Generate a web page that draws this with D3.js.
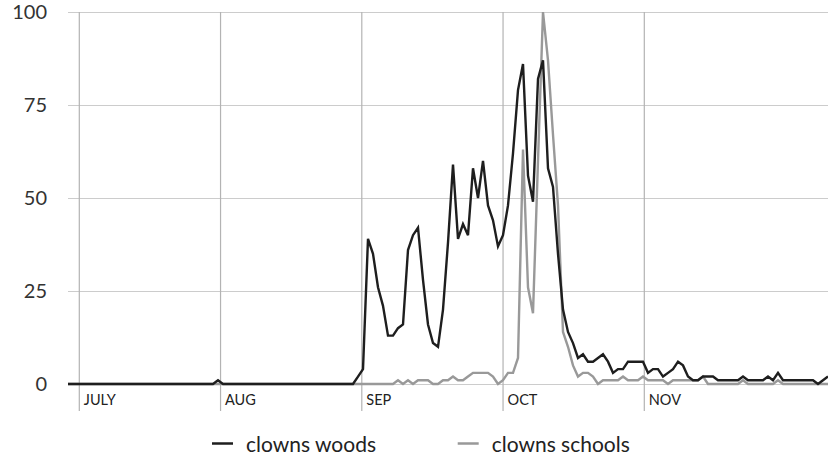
<!DOCTYPE html>
<html><head><meta charset="utf-8">
<script src="https://cdn.jsdelivr.net/npm/d3@7"></script>
<style>
html,body{margin:0;padding:0;background:#fff;}
svg{display:block;font-family:Lato,"Open Sans",sans-serif;}
</style></head><body>
<svg id="chart" width="828" height="458"></svg>
<script>
const startDate = new Date(2016, 6, 1);
const months = ["JULY", "AUG", "SEP", "OCT", "NOV"];
const yTicks = [0, 25, 50, 75, 100];
const seriesNames = ["clowns woods", "clowns schools"];
const woods = [
  0,0,0,0,0,0,0,0,0,0,
  0,0,0,0,0,0,0,0,0,0,
  0,0,0,0,0,0,0,0,0,0,
  1,0,0,0,0,0,0,0,0,0,
  0,0,0,0,0,0,0,0,0,0,
  0,0,0,0,0,0,0,0,2,4,
  39,35,26,21,13,13,15,16,36,40,
  42,28,16,11,10,20,38,59,39,43,
  40,58,50,60,48,44,37,40,48,62,
  79,86,56,49,82,87,58,53,35,20,
  14,11,7,8,6,6,7,8,6,3,
  4,4,6,6,6,6,3,4,4,2,
  3,4,6,5,2,1,1,2,2,2,
  1,1,1,1,1,2,1,1,1,1,
  2,1,3,1,1,1,1,1,1,1,
  0,1,2
];
const schools = [
  0,0,0,0,0,0,0,0,0,0,
  0,0,0,0,0,0,0,0,0,0,
  0,0,0,0,0,0,0,0,0,0,
  0,0,0,0,0,0,0,0,0,0,
  0,0,0,0,0,0,0,0,0,0,
  0,0,0,0,0,0,0,0,0,0,
  0,0,0,0,0,0,1,0,1,0,
  1,1,1,0,0,1,1,2,1,1,
  2,3,3,3,3,2,0,1,3,3,
  7,63,26,19,60,100,87,67,48,14,
  10,5,2,3,3,2,0,1,1,1,
  1,2,1,1,1,2,1,1,1,1,
  0,1,1,1,1,1,1,2,0,0,
  0,0,0,0,0,1,0,0,0,0,
  0,0,1,0,0,0,0,0,0,0,
  0,0,0
];
const colors = ["#1e1e1e", "#999999"];

const dates = d3.timeDay.range(startDate, d3.timeDay.offset(startDate, woods.length));
const svg = d3.select("#chart");
const x = d3.scaleTime().domain(d3.extent(dates)).range([68, 828]);
const y = d3.scaleLinear().domain([0, 100]).range([384, 12]);
const xm = d3.scalePoint().domain(months).range([79.3, 644.3]);

// horizontal grid + y labels
const yAxis = svg.append("g").attr("transform", "translate(68,0)")
  .call(d3.axisLeft(y).tickValues(yTicks).tickSize(-760).tickPadding(21));
yAxis.select(".domain").remove();
yAxis.selectAll(".tick line").attr("stroke", "#cccccc").attr("stroke-width", 1);
yAxis.selectAll(".tick text").attr("font-size", 20).attr("fill", "#333")
  .attr("font-family", "Lato, sans-serif");

// vertical month grid
const mg = svg.append("g");
mg.selectAll("line").data(months).join("line")
  .attr("x1", d => xm(d)).attr("x2", d => xm(d))
  .attr("y1", y(100)).attr("y2", 411)
  .attr("stroke", "#b3b3b3").attr("stroke-width", 1.2);
mg.selectAll("text").data(months).join("text")
  .attr("x", d => xm(d) + 4.5).attr("y", 405)
  .attr("font-size", 14.5).attr("fill", "#222").text(d => d);

// lines
const series = [schools, woods];
const seriesColors = [colors[1], colors[0]];
const line = d3.line().x((d, i) => x(dates[i])).y(d => y(d));
series.forEach((s, k) => {
  svg.append("path").datum(s)
    .attr("fill", "none").attr("stroke", seriesColors[k])
    .attr("stroke-width", 2.4).attr("stroke-linejoin", "miter")
    .attr("d", line);
});

// legend
const legendX = [212, 457.7];
const lg = svg.append("g");
seriesNames.forEach((n, k) => {
  lg.append("line").attr("x1", legendX[k]).attr("x2", legendX[k] + 21)
    .attr("y1", 443.5).attr("y2", 443.5)
    .attr("stroke", colors[k]).attr("stroke-width", 2.5);
  lg.append("text").attr("x", legendX[k] + 34).attr("y", 451.5)
    .attr("font-size", 21).attr("fill", "#222").text(n);
});
</script>
</body></html>
